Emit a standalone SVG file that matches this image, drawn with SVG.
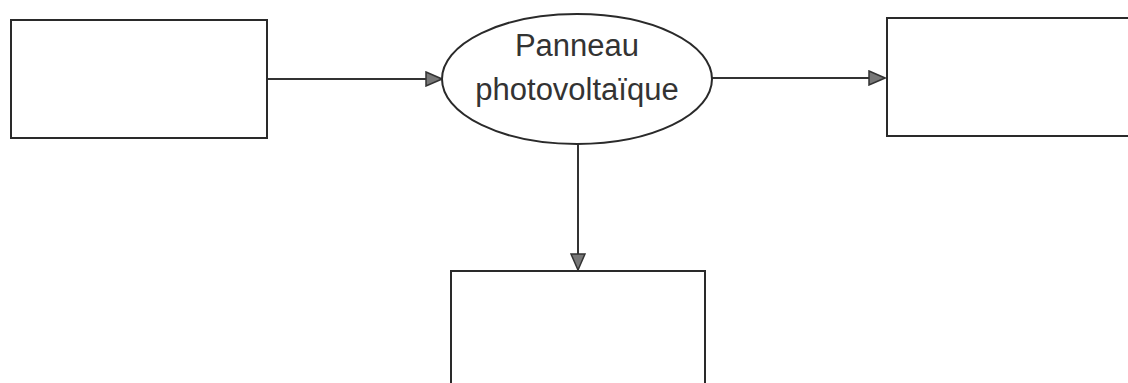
<svg xmlns="http://www.w3.org/2000/svg" width="1128" height="383" viewBox="0 0 1128 383">
<style>
.box{fill:#fff;stroke:#2a2a2a;stroke-width:2}
.conn{stroke:#333;stroke-width:2;fill:none}
.lbl{font-family:"Liberation Sans",Arial,sans-serif;font-size:31px;fill:#333;text-anchor:middle}
</style>
<defs>
<marker id="ah" markerWidth="18" markerHeight="16" refX="17" refY="8" orient="auto" markerUnits="userSpaceOnUse">
<path d="M1,1 L17,8 L1,15 Z" fill="#777" stroke="#333" stroke-width="1.5"/>
</marker>
</defs>
<rect width="1128" height="383" fill="#fff"/>
<g id="connectors">
<line class="conn" x1="267" y1="79" x2="442" y2="79" marker-end="url(#ah)"/>
<line class="conn" x1="712" y1="78" x2="885" y2="78" marker-end="url(#ah)"/>
<line class="conn" x1="578" y1="144" x2="578" y2="270" marker-end="url(#ah)"/>
</g>
<g id="node-left"><rect class="box" x="11" y="20" width="256" height="118"/></g>
<g id="node-right"><rect class="box" x="887" y="18" width="250" height="118"/></g>
<g id="node-bottom"><rect class="box" x="451" y="271" width="254" height="125"/></g>
<g id="node-panneau">
<ellipse class="box" cx="577" cy="79" rx="135" ry="65"/>
<text class="lbl" x="577" y="56">Panneau</text>
<text class="lbl" x="577" y="100">photovoltaïque</text>
</g>
</svg>
